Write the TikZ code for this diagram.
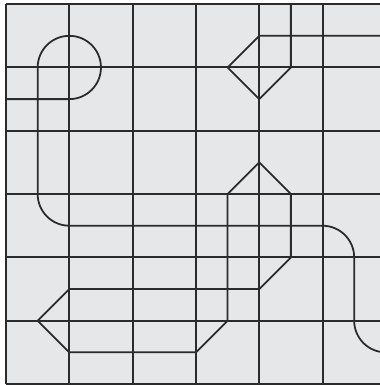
\documentclass[tikz,border=0pt]{standalone}
\usepackage{xcolor}
\definecolor{tile-bg}{HTML}{E6E7E8}
\definecolor{tile-ink}{HTML}{2B2B2B}

\begin{document}
\begin{tikzpicture}[line join=round]
  \useasboundingbox (-0.095,-0.016) rectangle (5.908,6.066);
  \clip (-0.095,-0.016) rectangle (5.908,6.066);
  \fill[tile-bg] (0,0) rectangle (6,6);
  % grid
  \foreach \k in {0,...,6}{
    \draw[tile-ink,line width=0.9pt] (\k,0) -- (\k,6);
    \draw[tile-ink,line width=0.9pt] (0,\k) -- (6,\k);
  }
  % winding line
  \draw[tile-ink,line width=0.8pt] (0,4.5) -- (1,4.5)
    arc[start angle=-90,end angle=180,radius=0.5] -- (0.5,3)
    arc[start angle=180,end angle=270,radius=0.5] -- (5,2.5)
    arc[start angle=90,end angle=0,radius=0.5] -- (5.5,1)
    arc[start angle=180,end angle=270,radius=0.5];
  % diamond at the top
  \draw[tile-ink,line width=0.8pt] (6,5.5) -- (4,5.5) -- (3.5,5) -- (4,4.5) -- (4.5,5) -- (4.5,6);
  % closed loop
  \draw[tile-ink,line width=0.8pt] (1,0.5) -- (3,0.5) -- (3.5,1) -- (3.5,3) -- (4,3.5) -- (4.5,3)
    -- (4.5,2) -- (4,1.5) -- (1,1.5) -- (0.5,1) -- cycle;
\end{tikzpicture}
\end{document}
